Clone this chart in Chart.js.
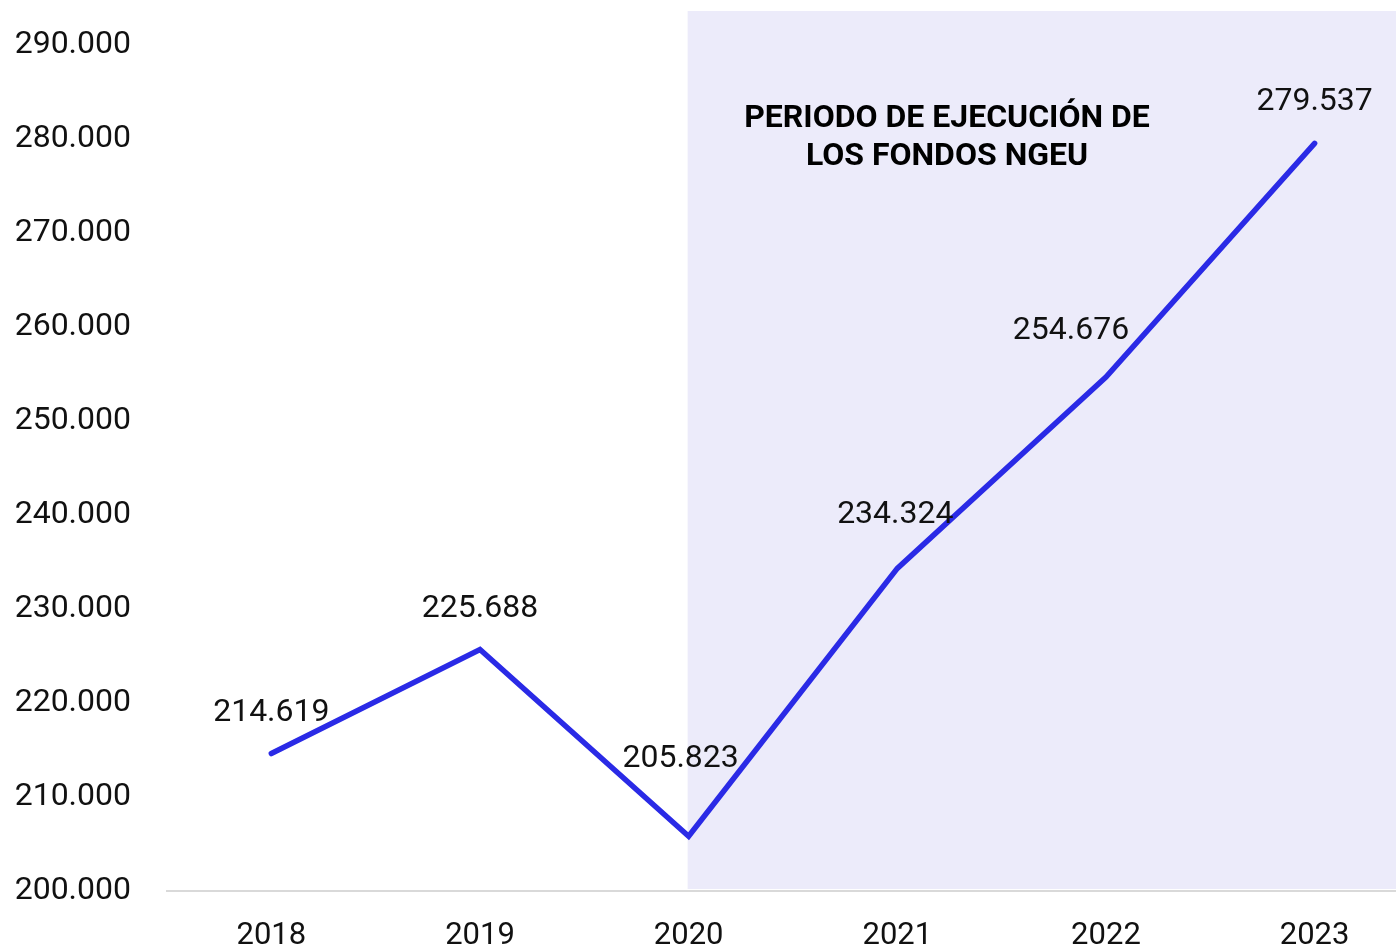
<!DOCTYPE html>
<html>
<head>
<meta charset="utf-8">
<title>Periodo de ejecución de los fondos NGEU</title>
<script src="https://cdn.jsdelivr.net/npm/chart.js"></script>
<style>
  html, body { margin: 0; padding: 0; background: #fff; }
  #wrap { width: 1396px; height: 950px; position: relative; }
</style>
</head>
<body>
<div id="wrap"><canvas id="chart" width="1396" height="950"></canvas></div>
<script>
const years = [2018, 2019, 2020, 2021, 2022, 2023];
const values = [214619, 225688, 205823, 234324, 254676, 279537];
const yTicks = [200000, 210000, 220000, 230000, 240000, 250000, 260000, 270000, 280000, 290000];
const shadeFrom = 2020;
const shadeTitle = ["PERIODO DE EJECUCIÓN DE", "LOS FONDOS NGEU"];

const FONT = "Roboto, 'Noto Sans', sans-serif";

const fmt = (v) => v.toLocaleString("de-DE");

// shaded background for the NGEU period, drawn under the line
const shadePlugin = {
  id: "shade",
  beforeDatasetsDraw(chart) {
    const { ctx, chartArea, scales } = chart;
    const x0 = scales.x.getPixelForValue(shadeFrom) - 1;
    ctx.save();
    ctx.fillStyle = "#ecebfa";
    ctx.fillRect(x0, 11, chartArea.right - x0, chartArea.bottom - 11 - 2);
    ctx.fillStyle = "#000";
    ctx.font = "bold 32px " + FONT;
    ctx.textAlign = "center";
    ctx.textBaseline = "middle";
    ctx.fillText(shadeTitle[0], 947, 119);
    ctx.fillText(shadeTitle[1], 947, 157);
    ctx.restore();
  },
};

// value labels above the points
const labelShift = { 2: [-8, -36], 3: [-2, -12], 4: [-35, -5] };
const labelPlugin = {
  id: "valueLabels",
  afterDatasetsDraw(chart) {
    const { ctx } = chart;
    const meta = chart.getDatasetMeta(0);
    ctx.save();
    ctx.fillStyle = "#111";
    ctx.font = "32px " + FONT;
    ctx.textAlign = "center";
    ctx.textBaseline = "middle";
    meta.data.forEach((pt, i) => {
      const s = labelShift[i] || [0, 0];
      ctx.fillText(fmt(values[i]), pt.x + s[0], pt.y - 41 + s[1]);
    });
    ctx.restore();
  },
};

new Chart(document.getElementById("chart"), {
  type: "line",
  data: {
    datasets: [
      {
        data: years.map((y, i) => ({ x: y, y: values[i] })),
        borderColor: "#2a2ae6",
        borderWidth: 5.5,
        borderCapStyle: "round",
        borderJoinStyle: "miter",
        pointRadius: 0,
        tension: 0,
        fill: false,
      },
    ],
  },
  options: {
    responsive: false,
    animation: false,
    layout: { padding: { top: 45, right: 0, bottom: 0, left: 0 } },
    plugins: {
      legend: { display: false },
      tooltip: { enabled: false },
    },
    scales: {
      x: {
        type: "linear",
        min: 2017.5,
        max: 2023.39,
        afterBuildTicks: (axis) => {
          axis.ticks = years.map((v) => ({ value: v }));
        },
        afterFit: (axis) => {
          axis.height = 59;
          axis.paddingLeft = 0;
          axis.paddingRight = 0;
        },
        ticks: {
          callback: (v) => String(v),
          color: "#111",
          font: { family: FONT, size: 31 },
          padding: 27,
          maxRotation: 0,
        },
        grid: { display: false, drawTicks: false },
        border: { display: true, color: "#d9d9d9", width: 2 },
      },
      y: {
        min: 200000,
        max: 290000,
        afterBuildTicks: (axis) => {
          axis.ticks = yTicks.map((v) => ({ value: v }));
        },
        afterFit: (axis) => {
          axis.width = 167;
          axis.paddingTop = 0;
          axis.paddingBottom = 0;
        },
        ticks: {
          callback: (v) => fmt(v),
          color: "#111",
          font: { family: FONT, size: 32 },
          padding: 36,
        },
        grid: { display: false, drawTicks: false },
        border: { display: false },
      },
    },
  },
  plugins: [shadePlugin, labelPlugin],
});
</script>
</body>
</html>
